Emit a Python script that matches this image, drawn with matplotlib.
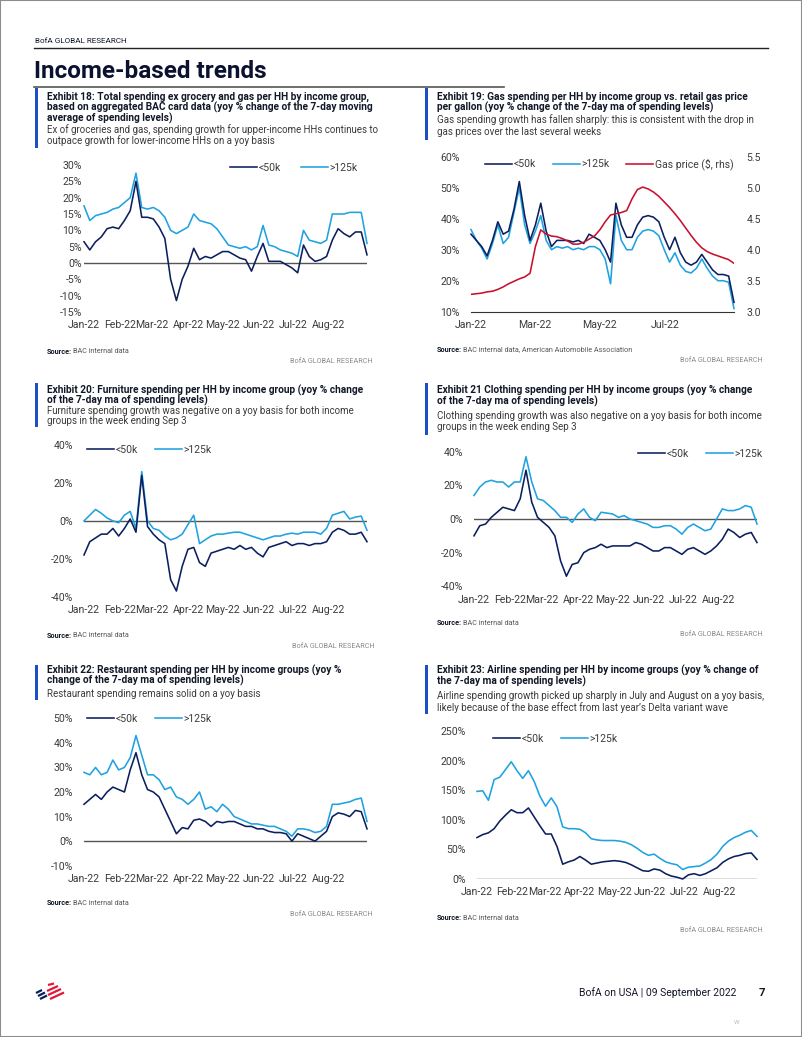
import pandas as pd
import matplotlib
matplotlib.use("Agg")
import matplotlib.pyplot as plt
from matplotlib.lines import Line2D
from matplotlib.patches import Rectangle

plt.rcParams["font.family"] = ["Roboto", "DejaVu Sans"]

W, H = 802, 1037
NAVY = "#0b1f5e"
LIGHT = "#1fa2e0"
RED = "#c8102e"
BLUE_BAR = "#1b4fc4"
TXT = "#111827"
SUB = "#3a3a3a"
TICK = "#3c3c3c"
LW = 1.15

# ---- data (5-day grid, 1 Jan - 3 Sep 2022) ----
dates = pd.date_range("2022-01-01", "2022-09-03", freq="5D")
month_ticks = pd.to_datetime(["2022-01-01", "2022-02-01", "2022-03-01", "2022-04-01",
                              "2022-05-01", "2022-06-01", "2022-07-01", "2022-08-01"])
month_labels = ["Jan-22", "Feb-22", "Mar-22", "Apr-22", "May-22", "Jun-22", "Jul-22", "Aug-22"]
gas_ticks = pd.to_datetime(["2022-01-01", "2022-03-01", "2022-05-01", "2022-07-01"])
gas_labels = ["Jan-22", "Mar-22", "May-22", "Jul-22"]

# Exhibit 18: total spending ex grocery and gas
total_lo = [6.5, 4, 6.5, 8, 10.5, 11, 10.5, 13, 16, 25,
            14, 14, 13.5, 11, 7.5, -5, -11.5, -5, -1, 4.5,
            1, 2, 1.5, 2.5, 3.5, 3.5, 2.5, 1.5, 1, -2.5,
            2, 6, 0.5, 0.5, 0.5, -0.5, -1.5, -3, 5.5, 2,
            0.5, 1, 2, 7, 10.5, 9, 8, 9.5, 9.5, 2.5]
total_hi = [17.5, 13, 14.5, 15, 15.5, 16.5, 17, 18.5, 20, 27.5,
            17, 16.5, 17, 16, 14, 10, 9, 10, 11, 15,
            13, 12.5, 12, 10.5, 8, 5.5, 5, 4.5, 5, 4,
            5, 11.5, 5.5, 5, 4, 3.5, 3, 2, 10, 7,
            6.5, 6, 7, 15, 15, 15, 15.5, 15.5, 15.5, 6]

# Exhibit 19: gas spending and retail gas price
gas_lo = [35, 33, 31, 28, 33, 39, 35, 36, 43, 52,
          41, 33, 38, 45, 36, 31, 33, 33, 33, 32.5,
          33, 32, 35, 34, 33, 30, 26, 45, 38, 34,
          34, 38, 40.5, 41, 40.5, 39, 34, 30, 34, 29,
          26, 25, 26, 28.5, 26, 23.5, 22, 22, 21.5, 13]
gas_hi = [36.5, 33, 30.5, 27, 32, 38, 32, 34, 42, 50,
          38, 32, 36, 41, 33, 30, 31, 30.5, 31, 30,
          30.5, 30, 31, 31, 30, 27, 19, 41, 33, 30,
          30, 34, 36, 36.5, 36, 34.5, 30, 26, 29, 25,
          23, 22.5, 24, 27, 24, 21.5, 20, 20, 19.5, 11]
gas_price = [3.28, 3.29, 3.30, 3.32, 3.33, 3.36, 3.40, 3.45, 3.49, 3.53,
             3.56, 3.62, 4.05, 4.32, 4.25, 4.22, 4.21, 4.18, 4.14, 4.09,
             4.09, 4.12, 4.17, 4.22, 4.32, 4.45, 4.56, 4.58, 4.60, 4.63,
             4.82, 4.97, 5.01, 4.98, 4.93, 4.86, 4.77, 4.68, 4.58, 4.47,
             4.35, 4.23, 4.12, 4.03, 3.97, 3.93, 3.90, 3.87, 3.84, 3.78]

# Exhibit 20: furniture
furn_lo = [-18, -11, -9, -7, -7, -4, -8, -4, 1, -6,
           24, -3, -7, -10, -12, -31, -37, -24, -15, -14,
           -22, -24, -17, -16, -15, -14, -15, -13, -15, -14,
           -17, -19, -14, -13, -12, -11, -13, -12, -12, -13,
           -12, -12, -11, -6, -4, -5, -7, -7, -6, -11]
furn_hi = [0, 3, 6, 4, 1.5, 0, -1, 3, 5, -4,
           26, 0, -4, -5, -8, -10, -9, -7, -2, 3,
           -12, -10, -8, -7, -7, -6.5, -6, -6, -7, -8,
           -9, -10, -9, -8, -8, -7, -6.5, -7, -6, -6,
           -6, -7, -4, 3, 4, 5, 1, 2, 2.5, -5]

# Exhibit 21: clothing
cloth_lo = [-10, -4, -3, 1, 4, 7, 6, 5, 12, 29,
            10, 1, -2, -5, -10, -25, -34, -27, -26, -20,
            -18, -17, -15, -17, -16, -16, -16, -16, -14, -15,
            -17, -19, -19, -17, -17, -19, -21, -18, -17, -19,
            -21, -19, -16, -12, -6, -8, -11, -9, -8, -14]
cloth_hi = [14, 19, 22, 23, 22, 22, 19, 22, 22, 37,
            22, 12, 11, 8, 5, 1, 1, -2, 3, 6,
            1, -1, 4, 3.5, 3, 1, 2, 0, -1, -2,
            -3, -5, -5, -4, -4, -6, -9, -5, -3, -5,
            -7, -6, 0, 6, 5, 5, 6, 8, 7, -3]

# Exhibit 22: restaurants
rest_lo = [15, 17, 19, 17, 20, 22, 21, 20, 29, 36,
           27, 21, 20, 18, 13, 8, 3, 5.5, 5, 8.5,
           9, 8, 6, 8, 7.5, 8, 8, 7, 6, 6,
           5, 5, 4, 3.5, 3.5, 3, 0, 3, 2, 1,
           0, 2, 4, 10, 11.5, 11, 10, 12.5, 12, 5]
rest_hi = [28, 27, 30, 27, 28, 33, 29, 30, 34, 43,
           35, 27, 27, 25, 21, 22, 18, 17, 15, 17,
           20, 13, 14, 12, 15, 13, 10, 9, 8, 7,
           7, 6.5, 6, 6, 5, 4, 2, 5, 5, 4.5,
           3.5, 4, 6, 15, 15, 15.5, 16, 17, 17.5, 8]

# Exhibit 23: airlines
air_lo = [70, 75, 78, 85, 98, 108, 117, 112, 112, 120,
          105, 90, 76, 76, 55, 25, 29, 32, 38, 32,
          25, 27, 29, 30, 31, 30, 28, 24, 19, 14,
          13, 17, 15, 9, 5, 3, 0, 7, 9, 6,
          9, 14, 19, 28, 34, 38, 40, 43, 44, 33]
air_hi = [148, 149, 133, 168, 172, 185, 198, 183, 170, 183,
          165, 140, 123, 137, 122, 88, 85, 85, 84, 78,
          68, 66, 65, 65, 65, 64, 62, 58, 52, 45,
          40, 42, 35, 29, 26, 24, 16, 20, 21, 22,
          27, 33, 42, 55, 64, 70, 74, 79, 82, 72]

fig = plt.figure(figsize=(W / 100, H / 100), dpi=100)


def fx(x):
    return x / W


def fy(y):
    return 1 - y / H


def rect(l, r, t, b):
    return [fx(l), fy(b), (r - l) / W, (b - t) / H]


def text_block(xbar, bar_top, bar_bot, xt, titles, title_ys, subs, sub_ys):
    fig.add_artist(Rectangle((fx(xbar), fy(bar_bot)), 2.5 / W, (bar_bot - bar_top) / H,
                             color=BLUE_BAR, transform=fig.transFigure, lw=0))
    for s, y in zip(titles, title_ys):
        fig.text(fx(xt), fy(y), s, fontsize=7.3, fontweight="bold", color=TXT, va="center")
    for s, y in zip(subs, sub_ys):
        fig.text(fx(xt), fy(y), s, fontsize=7.0, color=SUB, va="center")


def source(xt, ys, text, xr, yr):
    fig.text(fx(xt), fy(ys), "Source:", fontsize=5.2, fontweight="bold", color=TXT, va="center")
    fig.text(fx(xt + 26), fy(ys), text, fontsize=5.2, color="#555555", va="center")
    fig.text(fx(xr), fy(yr), "BofA GLOBAL RESEARCH", fontsize=5.2, color="#8a8a8a",
             va="center", ha="right")


def legend(ax, handles, labels, x, y, spacing):
    ax.legend(handles, labels, loc="center left", bbox_to_anchor=(fx(x), fy(y)),
              bbox_transform=fig.transFigure, ncol=len(handles), frameon=False,
              fontsize=7.5, handlelength=2.6, handletextpad=0.15, columnspacing=spacing,
              borderpad=0, borderaxespad=0, labelcolor=TICK)


def panel(r, lo, hi, ylim, yticks, ypad, leg_xy=None, spacing=1.6, zero=True,
          xt=month_ticks, xl=month_labels):
    ax = fig.add_axes(r)
    ax.plot(dates, hi, color=LIGHT, lw=LW, clip_on=False, zorder=3)
    ax.plot(dates, lo, color=NAVY, lw=LW, clip_on=False, zorder=4)
    if zero:
        ax.axhline(0, color="#555555", lw=1.0, zorder=2)
    ax.set_xlim(dates[0], dates[-1])
    ax.set_ylim(*ylim)
    ax.set_yticks(yticks)
    ax.set_yticklabels([f"{v:.0f}%" for v in yticks])
    ax.set_xticks(xt)
    ax.set_xticklabels(xl)
    ax.tick_params(axis="y", length=0, pad=ypad, labelsize=7.6, labelcolor=TICK)
    ax.tick_params(axis="x", length=0, pad=6, labelsize=7.6, labelcolor=TICK)
    for sp in ax.spines.values():
        sp.set_visible(False)
    ax.patch.set_alpha(0)
    if leg_xy is not None:
        h = [Line2D([], [], color=NAVY, lw=LW), Line2D([], [], color=LIGHT, lw=LW)]
        legend(ax, h, ["<50k", ">125k"], leg_xy[0], leg_xy[1], spacing)
    return ax


# ---- page header ----
fig.add_artist(Rectangle((0, 0), 1, 1, fill=False, edgecolor="#8c8c8c", lw=1.5,
                         transform=fig.transFigure))
fig.text(fx(35), fy(41), "BofA GLOBAL RESEARCH", fontsize=5.9, color=TXT, va="center")
fig.add_artist(Line2D([fx(34), fx(768)], [fy(48), fy(48)], color="#222222", lw=1.0))
fig.text(fx(34), fy(72), "Income-based trends", fontsize=17.5, fontweight="bold",
         color="#0b1230", va="center")
fig.add_artist(Line2D([fx(34), fx(504)], [fy(87), fy(87)], color="#555555", lw=1.2))

# ---- Exhibit 18 ----
text_block(35, 88, 148, 47,
           ["Exhibit 18: Total spending ex grocery and gas per HH by income group,",
            "based on aggregated BAC card data (yoy % change of the 7-day moving",
            "average of spending levels)"], [96.7, 107.7, 118.3],
           ["Ex of groceries and gas, spending growth for upper-income HHs continues to",
            "outpace growth for lower-income HHs on a yoy basis"], [129.3, 141])
panel(rect(84, 367, 165, 312), total_lo, total_hi, (-15, 30), list(range(-15, 31, 5)),
      1.5, (230, 168), 1.9)
source(47, 351.7, "BAC internal data", 373, 361.7)

# ---- Exhibit 19 ----
text_block(425, 88, 140, 437,
           ["Exhibit 19: Gas spending per HH by income group vs. retail gas price",
            "per gallon (yoy % change of the 7-day ma of spending levels)"], [96.7, 107.7],
           ["Gas spending growth has fallen sharply: this is consistent with the drop in",
            "gas prices over the last several weeks"], [120, 132.3])
ax2 = panel(rect(471, 734, 156.7, 311.7), gas_lo, gas_hi, (10, 60), list(range(10, 61, 10)),
            8, None, zero=False, xt=gas_ticks, xl=gas_labels)
ax2.spines["bottom"].set_visible(True)
ax2.spines["bottom"].set_color("#333333")
axr = ax2.twinx()
axr.plot(dates, gas_price, color=RED, lw=LW, zorder=5)
axr.set_ylim(3.0, 5.5)
axr.set_yticks([3.0, 3.5, 4.0, 4.5, 5.0, 5.5])
axr.set_yticklabels([f"{v:.1f}" for v in [3.0, 3.5, 4.0, 4.5, 5.0, 5.5]])
axr.tick_params(axis="y", length=0, pad=9, labelsize=7.6, labelcolor=TICK)
for sp in axr.spines.values():
    sp.set_visible(False)
h = [Line2D([], [], color=NAVY, lw=LW), Line2D([], [], color=LIGHT, lw=LW),
     Line2D([], [], color=RED, lw=LW)]
legend(axr, h, ["<50k", ">125k", "Gas price ($, rhs)"], 485, 164, 1.6)
source(437, 350, "BAC internal data, American Automobile Association", 763, 361)

# ---- Exhibit 20 ----
text_block(35, 383, 427, 47,
           ["Exhibit 20: Furniture spending per HH by income group (yoy % change",
            "of the 7-day ma of spending levels)"], [390, 400.5],
           ["Furniture spending growth was negative on a yoy basis for both income",
            "groups in the week ending Sep 3"], [410.5, 421.5])
panel(rect(84, 367, 445, 596.7), furn_lo, furn_hi, (-40, 40), [-40, -20, 0, 20, 40],
      8, (87, 450), 1.6)
source(47, 635.7, "BAC internal data", 375, 646)

# ---- Exhibit 21 ----
text_block(425, 383, 435, 437,
           ["Exhibit 21 Clothing spending per HH by income groups (yoy % change",
            "of the 7-day ma of spending levels)"], [390, 401],
           ["Clothing spending growth was also negative on a yoy basis for both income",
            "groups in the week ending Sep 3"], [415.7, 427.3])
panel(rect(474, 757, 451.7, 586.3), cloth_lo, cloth_hi, (-40, 40), [-40, -20, 0, 20, 40],
      8, (638, 454), 1.6)
source(437, 623.3, "BAC internal data", 763, 635)

# ---- Exhibit 22 ----
text_block(35, 665, 700, 47,
           ["Exhibit 22: Restaurant spending per HH by income groups (yoy %",
            "change of the 7-day ma of spending levels)"], [670, 680.5],
           ["Restaurant spending remains solid on a yoy basis"], [694.3])
panel(rect(84, 367, 718.3, 865.7), rest_lo, rest_hi, (-10, 50), list(range(-10, 51, 10)),
      8, (87, 719), 1.6)
source(47, 903.3, "BAC internal data", 373, 915)

# ---- Exhibit 23 ----
text_block(425, 665, 714, 437,
           ["Exhibit 23: Airline spending per HH by income groups (yoy % change of",
            "the 7-day ma of spending levels)"], [670, 681],
           ["Airline spending growth picked up sharply in July and August on a yoy basis,",
            "likely because of the base effect from last year\u2019s Delta variant wave"],
           [696, 707.7])
panel(rect(477, 757, 731, 879), air_lo, air_hi, (0, 250), list(range(0, 251, 50)),
      8, (493, 739), 1.6)
source(437, 918.3, "BAC internal data", 763, 930)

# ---- footer: small flag logo ----
logo = [((48, 985), (54, 983.5), "#e31837"),
        ((36, 993), (42, 990), NAVY),
        ((38, 996), (45, 992.5), NAVY),
        ((40, 999), (47, 995.5), NAVY),
        ((47, 991), (58, 986), "#e31837"),
        ((48, 995), (61, 989), "#e31837"),
        ((50, 999), (64, 992.5), "#e31837")]
for (x0, y0), (x1, y1), c in logo:
    fig.add_artist(Line2D([fx(x0), fx(x1)], [fy(y0), fy(y1)], color=c, lw=1.6,
                          solid_capstyle="butt"))
fig.text(fx(736), fy(993), "BofA on USA | 09 September 2022", fontsize=7.5, color=TXT,
         ha="right", va="center")
fig.text(fx(762), fy(993), "7", fontsize=8, fontweight="bold", color=TXT, ha="center",
         va="center")
fig.text(fx(737), fy(1022), "W", fontsize=4.5, color="#bbbbbb", ha="center", va="center")

fig.savefig("out.png", dpi=100)
